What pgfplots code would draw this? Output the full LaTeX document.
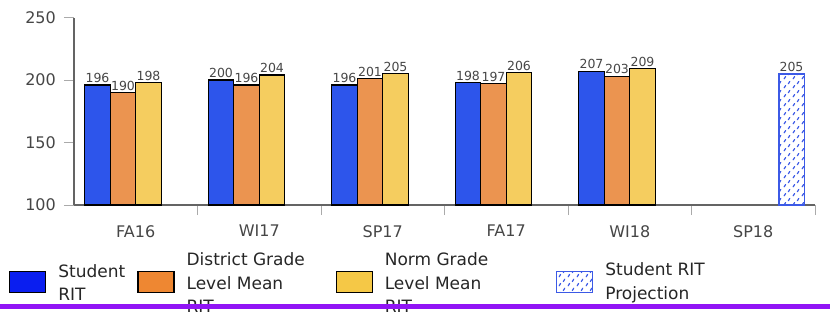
\documentclass[border=0pt]{standalone}
\usepackage{fontspec}
\setmainfont{DejaVu Sans}
\usepackage{pgfplots}
\pgfplotsset{compat=1.18}
\usetikzlibrary{patterns.meta}
\definecolor{barblue}{RGB}{45,85,235}
\definecolor{barorange}{RGB}{235,148,80}
\definecolor{baryellow}{RGB}{245,205,95}
\definecolor{legblue}{RGB}{10,30,240}
\definecolor{legorange}{RGB}{238,135,50}
\definecolor{legyellow}{RGB}{245,200,70}
\definecolor{projblue}{RGB}{60,90,230}
\definecolor{txtgray}{RGB}{70,70,70}
\definecolor{axgray}{RGB}{100,100,100}
\definecolor{tickgray}{RGB}{170,170,170}
\definecolor{purpleline}{RGB}{145,20,245}
\tikzdeclarepattern{
  name=projdash,
  type=uncolored,
  bounding box={(0,0) and (9bp,9bp)},
  tile size={(9bp,9bp)},
  code={
    \draw[line width=1.3bp, line cap=round] (1.3bp,1.3bp) -- (2.8bp,3.8bp);
    \draw[line width=1.3bp, line cap=round] (5.8bp,5.8bp) -- (7.3bp,8.3bp);
  }
}
\pgfplotstableread{
x student district norm
0 196 190 198
1 200 196 204
2 196 201 205
3 198 197 206
4 207 203 209
}\rittable
\pgfplotstableread{
x proj
5 205
}\projtable
\newcommand{\legtext}[2]{\raisebox{28bp}{\parbox[c][70.5bp][c]{#1}{#2}}}
\begin{document}
\begin{tikzpicture}
\begin{axis}[
  anchor=south west, at={(74bp,-205bp)},
  scale only axis, width=741bp, height=187.5bp,
  xmin=-0.5, xmax=5.5, ymin=100, ymax=250,
  axis lines=left,
  axis line style={-, draw=axgray, line width=1.4bp},
  ytick={100,150,200,250},
  xtick={0.5,1.5,2.5,3.5,4.5,5.5}, xticklabels={},
  extra x ticks={0,1,2,3,4,5},
  extra x tick labels={FA16,WI17,SP17,FA17,WI18,SP18},
  extra x tick style={major tick length=0pt, xticklabel style={inner sep=0pt, yshift=-20bp}},
  tick align=outside, major tick length=10bp,
  tick style={draw=tickgray, line width=1bp},
  /pgf/number format/assume math mode=true,
  ticklabel style={font=\fontsize{16bp}{18bp}\selectfont, text=txtgray},
  yticklabel style={inner sep=0pt, xshift=-8bp},
  ybar=0pt, bar width=25.5bp,
  clip=false,
  nodes near coords,
  every node near coord/.append style={font=\fontsize{12.5bp}{14bp}\selectfont, text=txtgray, inner sep=1.5bp},
  legend image code/.code={\draw[#1] (0bp,-10.5bp) rectangle (36bp,10.5bp);},
  legend columns=4,
  legend style={at={(rel axis cs:-0.0877,-0.4107)}, anchor=west, draw=none, fill=none, inner sep=0pt,
    font=\fontsize{17bp}{23.5bp}\selectfont, text=black!85,
    nodes={inner sep=0pt},
    /tikz/every odd column/.append style={column sep=12bp},
    /tikz/every even column/.append style={column sep=0bp}},
  legend cell align=left,
]
\addplot[forget plot, fill=barblue, draw=black, line width=1.2bp, bar shift=-38.25bp] table[x=x, y=student] {\rittable};
\addplot[forget plot, fill=barorange, draw=black, line width=1.2bp, bar shift=-12.75bp] table[x=x, y=district] {\rittable};
\addplot[forget plot, fill=baryellow, draw=black, line width=1.2bp, bar shift=12.75bp] table[x=x, y=norm] {\rittable};
\addplot[forget plot, pattern={projdash}, pattern color=projblue, draw=projblue, line width=1.5bp, bar shift=38.25bp] table[x=x, y=proj] {\projtable};
\addlegendimage{fill=legblue, draw=black, line width=1.2bp}
\addlegendentry{\legtext{79bp}{Student\\RIT}}
\addlegendimage{fill=legorange, draw=black, line width=1.2bp}
\addlegendentry{\legtext{149bp}{District Grade\\Level Mean\\RIT}}
\addlegendimage{fill=legyellow, draw=black, line width=1.2bp}
\addlegendentry{\legtext{171bp}{Norm Grade\\Level Mean\\RIT}}
\addlegendimage{pattern={projdash}, pattern color=projblue, draw=projblue, line width=1.5bp}
\addlegendentry{\legtext{150bp}{Student RIT\\Projection}}
\end{axis}
\fill[purpleline] (0bp,-303.5bp) rectangle (830bp,-308.5bp);
\pgfresetboundingbox
\path[use as bounding box] (0bp,0bp) rectangle (830bp,-314bp);
\end{tikzpicture}
\end{document}
